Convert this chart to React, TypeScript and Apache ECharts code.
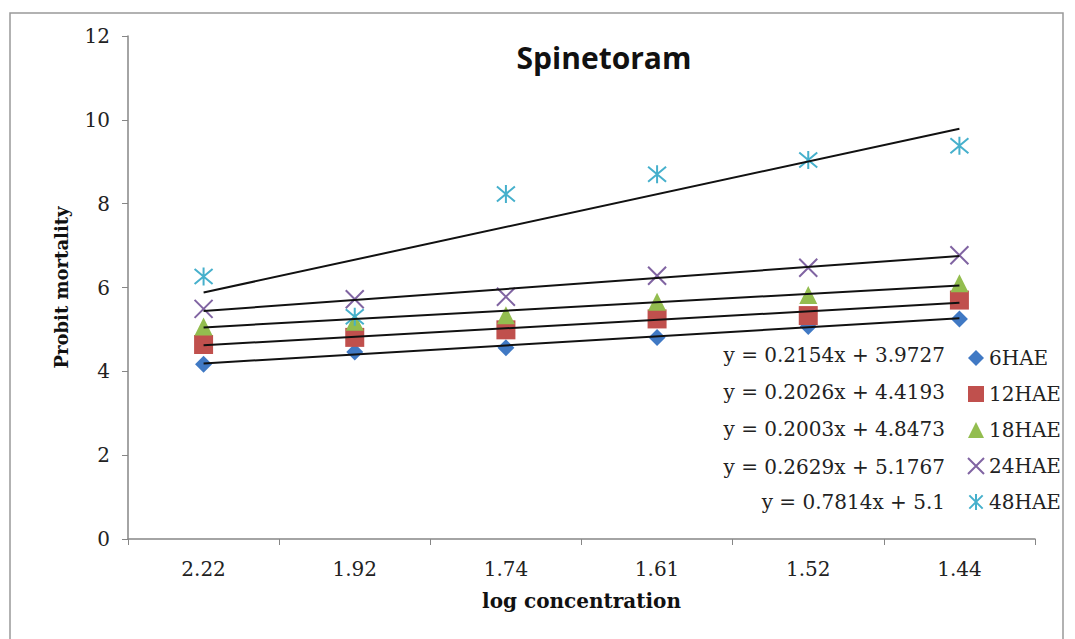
import React, { useEffect, useRef } from "react";
import * as echarts from "echarts";

const categories = ["2.22", "1.92", "1.74", "1.61", "1.52", "1.44"];
const seriesNames = ["6HAE", "12HAE", "18HAE", "24HAE", "48HAE"];
const hae6 = [4.17, 4.46, 4.56, 4.81, 5.07, 5.25];
const hae12 = [4.64, 4.81, 4.99, 5.25, 5.33, 5.7];
const hae18 = [5.07, 5.18, 5.34, 5.66, 5.82, 6.1];
const hae24 = [5.49, 5.72, 5.78, 6.28, 6.47, 6.77];
const hae48 = [6.26, 5.3, 8.23, 8.7, 9.04, 9.38];
const slopes = [0.2154, 0.2026, 0.2003, 0.2629, 0.7814];
const intercepts = [3.9727, 4.4193, 4.8473, 5.1767, 5.1];
const equations = [
  "y = 0.2154x + 3.9727",
  "y = 0.2026x + 4.4193",
  "y = 0.2003x + 4.8473",
  "y = 0.2629x + 5.1767",
  "y = 0.7814x + 5.1",
];

const colors = ["#4079C4", "#C0504D", "#93BD4F", "#8064A2", "#46B0CC"];
const symbols = [
  "diamond",
  "rect",
  "triangle",
  "path://M0,0L20,20M20,0L0,20",
  "path://M0,0L20,20M20,0L0,20M10,-2L10,22",
];
const symbolSizes = [17, 19, 18, 18, 18];

export default function App() {
  const ref = useRef<HTMLDivElement>(null);
  useEffect(() => {
    document.body.style.margin = "0";
    const chart = echarts.init(ref.current!, undefined, { renderer: "svg" });
    const data = [hae6, hae12, hae18, hae24, hae48];
    const serif = "DejaVu Serif";
    const scatterSeries = data.map((d, i) => ({
      name: seriesNames[i],
      type: "scatter",
      data: d,
      symbol: symbols[i],
      symbolSize: symbolSizes[i],
      z: 2,
      itemStyle: {
        color: colors[i],
        opacity: 1,
        borderColor: i >= 3 ? colors[i] : undefined,
        borderWidth: i >= 3 ? 2 : 0,
      },
    }));
    const trendSeries = slopes.map((m, i) => ({
      name: "trend" + i,
      type: "line",
      data: [
        [0, m * 1 + intercepts[i]],
        [categories.length - 1, m * categories.length + intercepts[i]],
      ],
      symbol: "none",
      z: 3,
      lineStyle: { color: "#111", width: 2 },
    }));
    const eqY = [355, 392, 429, 467, 502];
    chart.setOption({
      animation: false,
      grid: { left: 128, top: 36, right: 40, bottom: 100 },
      xAxis: {
        type: "category",
        data: categories,
        boundaryGap: true,
        name: "log concentration",
        nameLocation: "middle",
        nameGap: 52,
        nameTextStyle: { fontFamily: serif, fontWeight: "bold", fontSize: 20, color: "#111" },
        axisLine: { lineStyle: { color: "#868686", width: 1.5 } },
        axisTick: { show: true, length: 6, lineStyle: { color: "#868686" } },
        axisLabel: { fontFamily: serif, fontSize: 20, color: "#222", margin: 20 },
      },
      yAxis: {
        type: "value",
        min: 0,
        max: 12,
        interval: 2,
        name: "Probit mortality",
        nameLocation: "middle",
        nameGap: 58,
        nameTextStyle: { fontFamily: serif, fontWeight: "bold", fontSize: 18, color: "#111" },
        splitLine: { show: false },
        axisLine: { show: true, lineStyle: { color: "#868686", width: 1.5 } },
        axisTick: { show: true, length: 6, lineStyle: { color: "#868686" } },
        axisLabel: { fontFamily: serif, fontSize: 20, color: "#222", margin: 18 },
      },
      legend: {
        data: seriesNames,
        orient: "vertical",
        left: 962,
        top: 343,
        itemWidth: 16,
        itemHeight: 16,
        itemGap: 16,
        textStyle: { fontFamily: serif, fontSize: 20, color: "#222" },
      },
      graphic: [
        {
          type: "rect",
          shape: { x: 10, y: 13, width: 1053, height: 640 },
          style: { fill: "none", stroke: "#999", lineWidth: 1.5 },
          silent: true,
        },
        {
          type: "text",
          x: 604,
          y: 57,
          style: {
            text: "Spinetoram",
            font: "bold 30px 'Open Sans'",
            fill: "#111",
            textAlign: "center",
            textVerticalAlign: "middle",
          },
        },
        ...equations.map((t, i) => ({
          type: "text",
          x: 945,
          y: eqY[i],
          style: {
            text: t,
            font: "20px 'DejaVu Serif'",
            fill: "#222",
            textAlign: "right",
            textVerticalAlign: "middle",
          },
        })),
      ],
      series: [...scatterSeries, ...trendSeries],
    });
    return () => chart.dispose();
  }, []);
  return <div ref={ref} style={{ width: 1075, height: 639 }} />;
}
